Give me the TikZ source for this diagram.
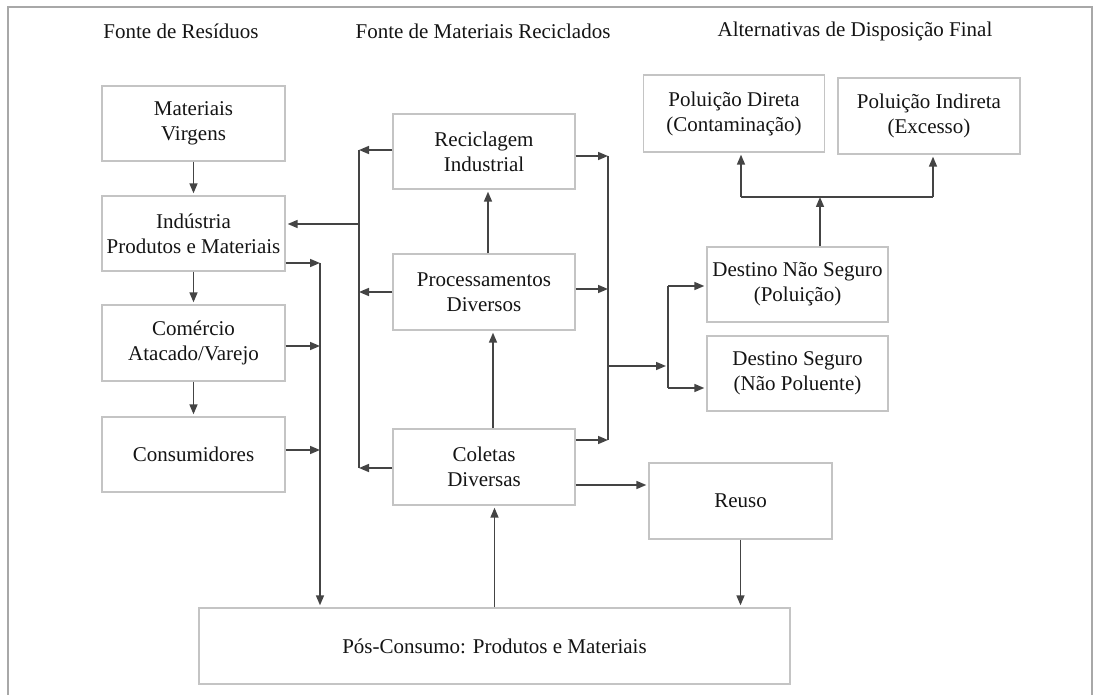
\documentclass[tikz,border=0pt]{standalone}
\usepackage{fontspec}
\setmainfont{Liberation Serif}
\usetikzlibrary{arrows.meta,calc}
\definecolor{boxline}{HTML}{C4C4C4}
\definecolor{arrowline}{HTML}{444444}
\definecolor{frameline}{HTML}{A8A8A8}
\definecolor{ink}{HTML}{141414}
\begin{document}
\begin{tikzpicture}[x=1pt,y=-1pt,
  box/.style={draw=boxline,line width=1.3pt,minimum width=182pt,minimum height=75pt,
    inner sep=0pt,align=center,text=ink,font=\fontsize{21}{25}\selectfont},
  title/.style={text=ink,font=\fontsize{21}{25}\selectfont,inner sep=0pt},
  arr/.style={draw=arrowline,line width=1.5pt,-{Triangle[length=10pt,width=8pt]}},
  arrb/.style={arr,shorten >=2pt},
  wire/.style={draw=arrowline,line width=1.5pt}]
\useasboundingbox (0,0) rectangle (1093,695);
% outer frame
\draw[frameline,line width=1.5pt] (8,700) -- (8,7) -- (1092,7) -- (1092,700);

% column titles
\node[title] (t1) at (181,31) {Fonte de Resíduos};
\node[title] (t2) at (483,31) {Fonte de Materiais Reciclados};
\node[title] (t3) at (855,31) {Alternativas de Disposição Final};

% waste sources
\node[box,minimum width=183pt] (mv)   at (193.5,123.5) {Materiais\\Virgens};
\node[box,minimum width=183pt] (ind)  at (193.5,233.5) {Indústria\\Produtos e Materiais};
\node[box,minimum width=183pt,minimum height=76pt] (com)  at (193.5,343) {Comércio\\Atacado/Varejo};
\node[box,minimum width=183pt] (cons) at (193.5,454.5) {Consumidores};

% recycled material sources
\node[box] (rec)  at (484,151.5) {Reciclagem\\Industrial};
\node[box,minimum height=76pt] (proc) at (484,292) {Processamentos\\Diversos};
\node[box,minimum height=76pt] (col)  at (484,467) {Coletas\\Diversas};

% final disposal
\node[box,minimum width=181pt,minimum height=77pt] (pd) at (734,113.5) {Poluição Direta\\(Contaminação)};
\node[box,minimum height=76pt] (pi) at (929,116) {Poluição Indireta\\(Excesso)};
\node[box,minimum width=181pt] (dns) at (797.5,284.5) {Destino Não Seguro\\(Poluição)};
\node[box,minimum width=181pt] (ds)  at (797.5,373.5) {Destino Seguro\\(Não Poluente)};
\node[box,minimum width=183pt,minimum height=76pt] (reuso) at (740.5,501) {Reuso};
\node[box,minimum width=591pt,minimum height=76pt] (pos) at (494.5,646) {Pós-Consumo: Produtos e Materiais};

% chain of waste sources
\draw[arrb] (mv.south) -- (ind.north);
\draw[arrb] (ind.south) -- (com.north);
\draw[arrb] (com.south) -- (cons.north);

% bus from waste sources down to post-consumption
\coordinate (a1) at (320,263);
\coordinate (a2) at (320,346);
\coordinate (a3) at (320,450);
\draw[arr] (ind.east |- a1) -- (a1);
\draw[arr] (com.east |- a2) -- (a2);
\draw[arr] (cons.east |- a3) -- (a3);
\draw[arrb] (a1) -- (a1 |- pos.north);

% bus from recycled sources back to industry
\coordinate (b1) at (359,150);
\coordinate (b2) at (359,292);
\coordinate (b3) at (359,468);
\coordinate (b0) at (359,224);
\draw[arr] (rec.west |- b1) -- (b1);
\draw[arr] (proc.west |- b2) -- (b2);
\draw[arr] (col.west |- b3) -- (b3);
\draw[wire] (b1) -- (b3);
\draw[arrb] (b0) -- (ind.east |- b0);

% upward flow among recycled sources
\draw[arrb] ($(proc.north)+(4,0)$) -- ($(rec.south)+(4,0)$);
\draw[arrb] ($(col.north)+(9,0)$) -- ($(proc.south)+(9,0)$);
\draw[arrb] (pos.north) -- (pos.north |- col.south);

% reuse loop
\draw[arrb] ($(col.east)+(0,18)$) -- (reuso.west |- {$(col.east)+(0,18)$});
\draw[arrb] (reuso.south) -- (reuso.south |- pos.north);

% bus to final destinations
\coordinate (c1) at (608,156);
\coordinate (c2) at (608,289);
\coordinate (c3) at (608,440);
\coordinate (c0) at (608,366);
\draw[arr] (rec.east |- c1) -- (c1);
\draw[arr] (proc.east |- c2) -- (c2);
\draw[arr] (col.east |- c3) -- (c3);
\draw[wire] (c1) -- (c3);
\coordinate (d0) at (668,366);
\coordinate (d1) at (668,286);
\coordinate (d2) at (668,388);
\draw[arr] (c0) -- ($(d0)+(-2,0)$);
\draw[wire] (d1) -- (d2);
\draw[arrb] (d1) -- (dns.west |- d1);
\draw[arrb] (d2) -- (ds.west |- d2);

% unsafe destination splits into pollution types
\coordinate (e0) at (820,197);
\coordinate (e1) at (741,197);
\coordinate (e2) at (933,197);
\draw[arr] (dns.north -| e0) -- (e0);
\draw[wire] (e1) -- (e2);
\draw[arrb] (e1) -- (e1 |- pd.south);
\draw[arrb] (e2) -- (e2 |- pi.south);
\end{tikzpicture}
\end{document}
